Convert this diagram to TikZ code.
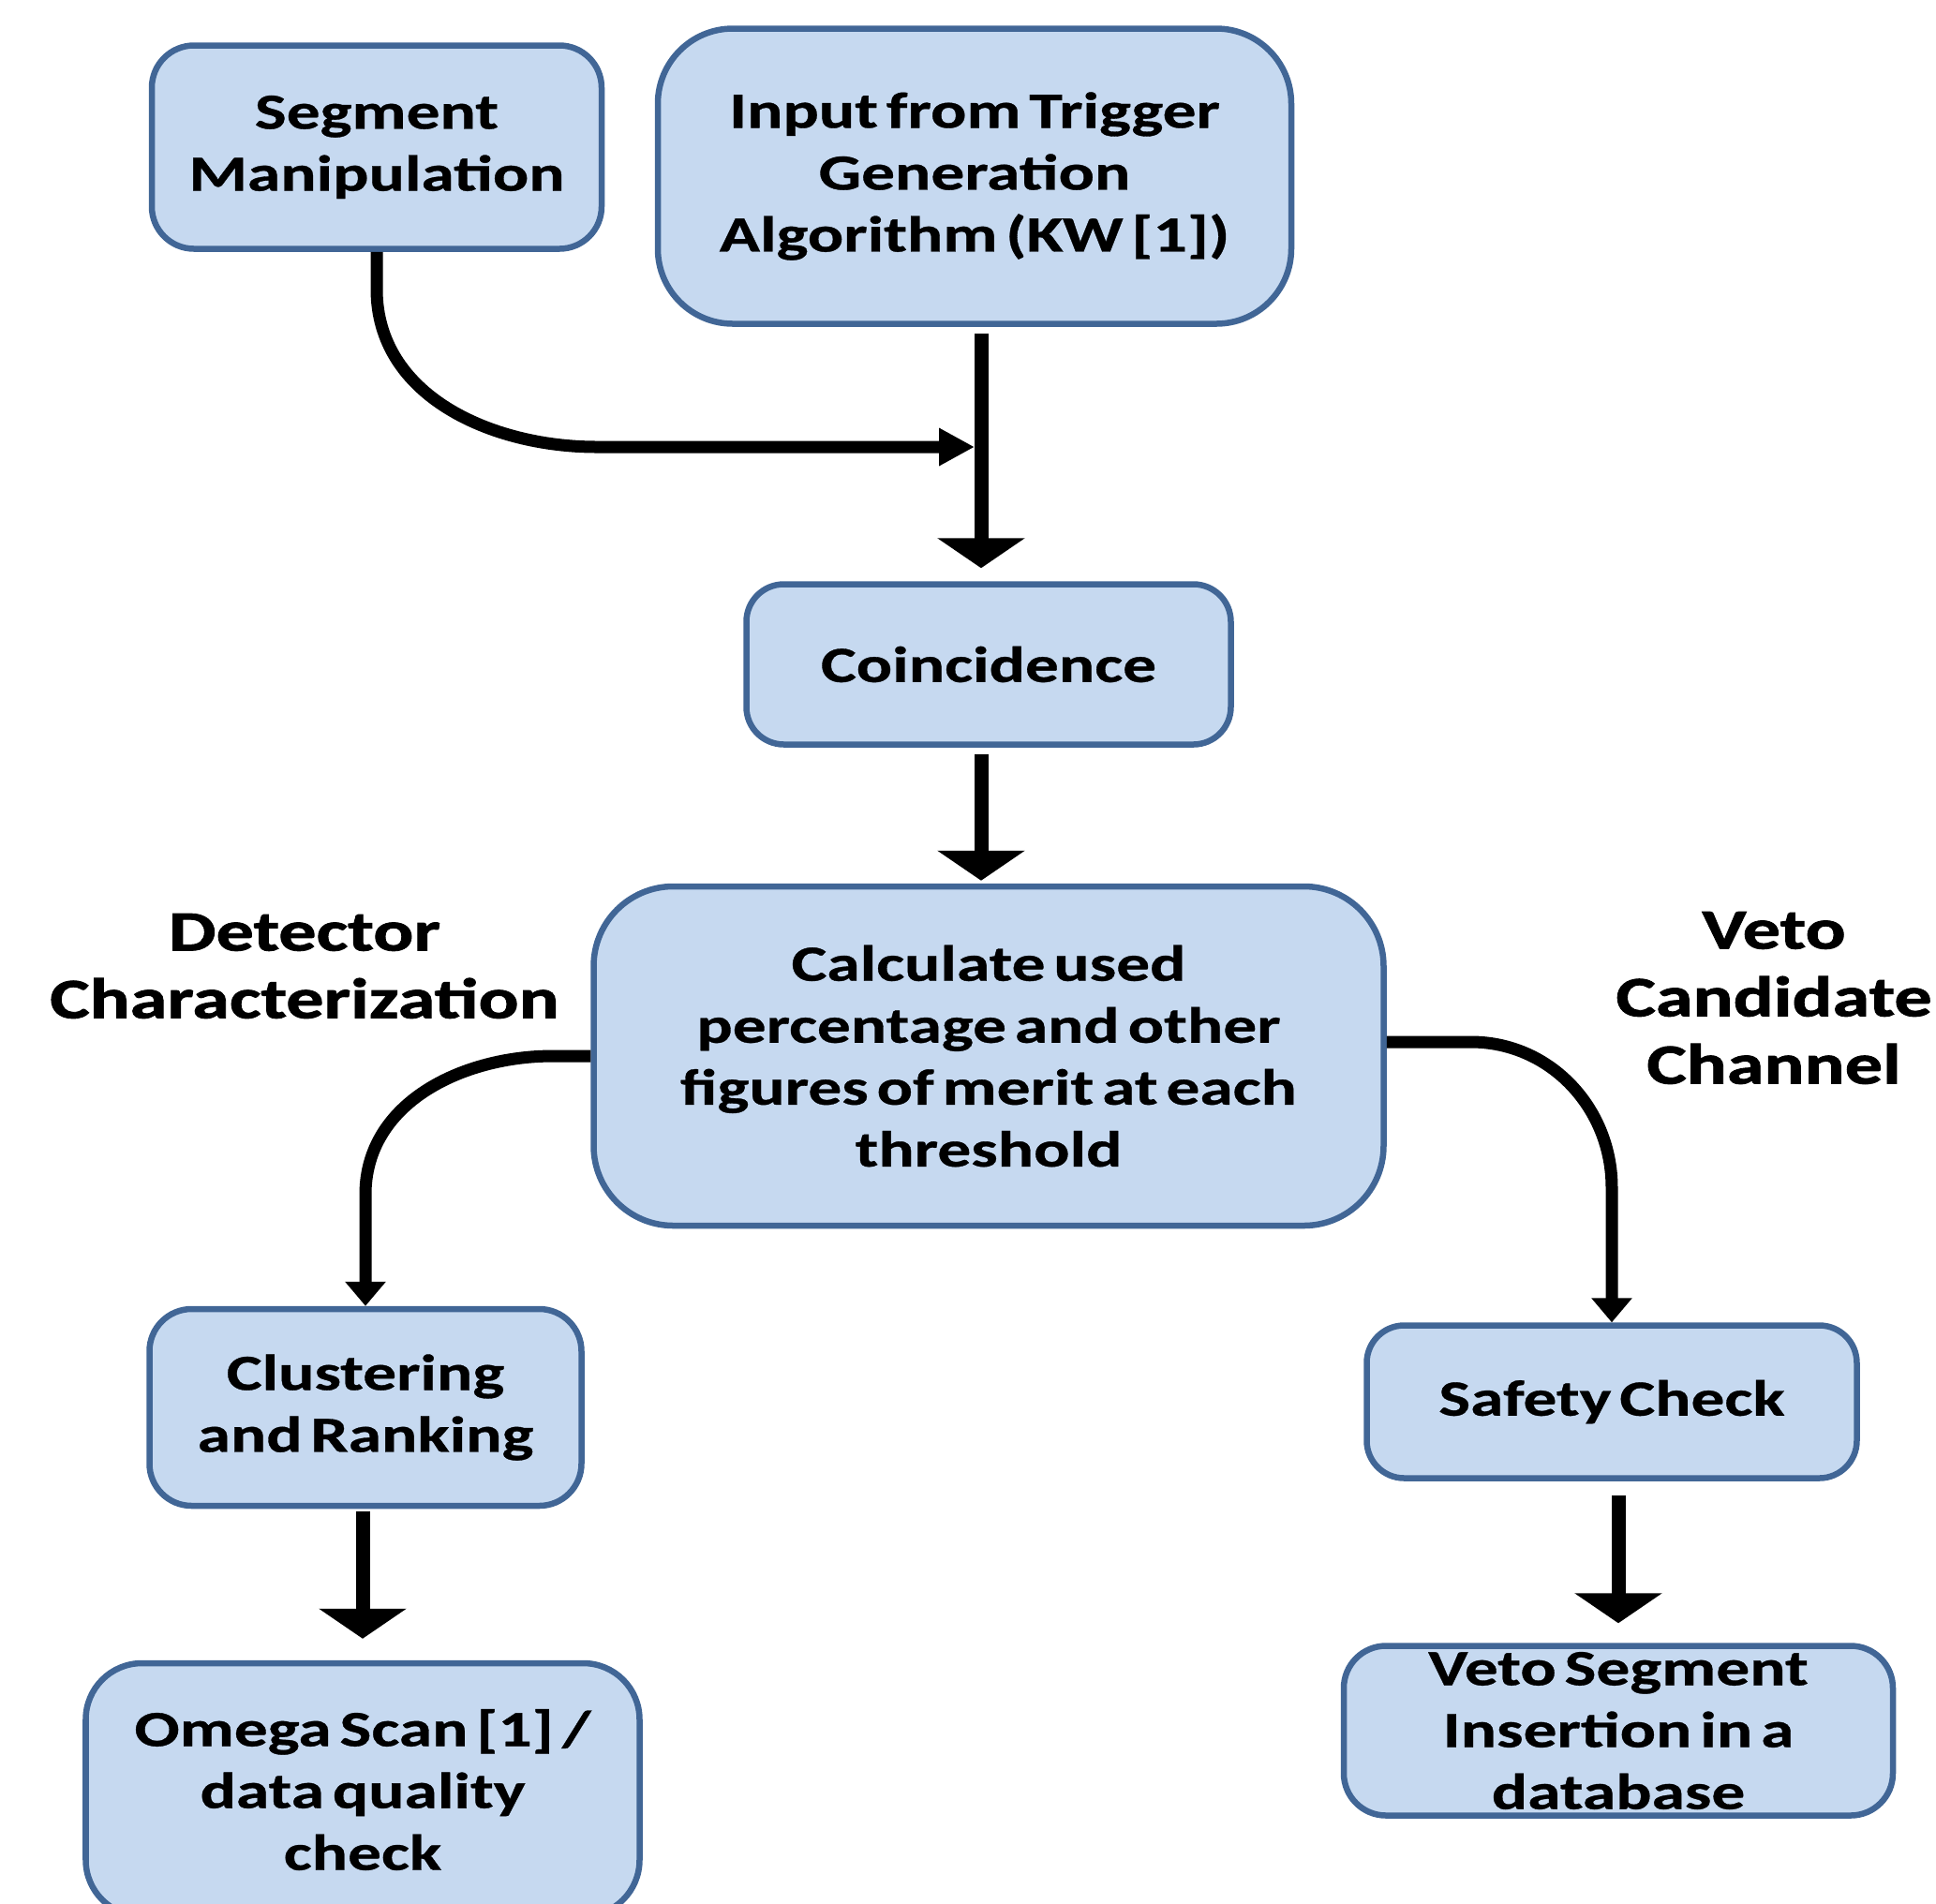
\documentclass[tikz,border=0pt]{standalone}
\usepackage{fontspec}
\newfontfamily\boxfont{Carlito}[FakeStretch=1.32, WordSpace=0.55, FakeBold=0.6]
\newfontfamily\labelfont{Carlito}[FakeStretch=1.32, WordSpace=0.6, FakeBold=1.4]
\definecolor{boxblue}{RGB}{198,217,240}
\definecolor{boxedge}{RGB}{65,102,150}
\usetikzlibrary{arrows.meta, positioning, calc}

\begin{document}
\begin{tikzpicture}[
    stepbox/.style={rectangle, draw=boxedge, fill=boxblue, line width=0.065cm,
                    rounded corners=0.45cm, align=center, inner sep=0pt,
                    font={\boxfont\bfseries\fontsize{15.4}{18.8}\selectfont}},
    sidelabel/.style={align=center, inner sep=0pt,
                      font={\labelfont\bfseries\fontsize{17.3}{20.5}\selectfont}},
    mainflow/.style={draw, line width=0.15cm,
                     -{Triangle[width=0.92cm, length=0.32cm]}},
    curveflow/.style={draw, line width=0.13cm,
                      -{Triangle[width=0.38cm, length=0.38cm]}},
    sideflow/.style={draw, line width=0.13cm,
                     -{Triangle[width=0.42cm, length=0.26cm]}}
]
\useasboundingbox (0,0) rectangle (20.66,-20.31);

\node[stepbox, minimum width=4.80cm, minimum height=2.17cm]
    (seg) at (4.02,-1.57) {Segment\\Manipulation};
\node[stepbox, minimum width=6.76cm, minimum height=3.15cm, rounded corners=0.8cm]
    (input) at (10.40,-1.88) {Input from Trigger\\Generation\\Algorithm (KW [1])};
\node[stepbox, minimum width=5.17cm, minimum height=1.71cm, rounded corners=0.4cm]
    (coinc) at (10.55,-7.09) {Coincidence};
\node[stepbox, minimum width=8.43cm, minimum height=3.62cm, rounded corners=0.85cm]
    (calc) at (10.55,-11.27)
    {Calculate used\\percentage and other\\figures of merit at each\\threshold};
\node[stepbox, minimum width=4.61cm, minimum height=2.10cm]
    (clust) at (3.90,-15.02) {Clustering\\and Ranking};
\node[stepbox, minimum width=5.91cm, minimum height=2.70cm, rounded corners=0.6cm]
    (omega) at (3.87,-19.10) {Omega Scan [1] /\\data quality\\check};
\node[stepbox, minimum width=5.23cm, minimum height=1.63cm, rounded corners=0.4cm]
    (safety) at (17.20,-14.96) {Safety Check};
\node[stepbox, minimum width=5.86cm, minimum height=1.81cm]
    (veto) at (17.27,-18.47) {Veto Segment\\Insertion in a\\database};

\node[sidelabel] (detchar) at (3.25,-10.31) {Detector\\Characterization};
\node[sidelabel] (vetochan) at (18.93,-10.65) {Veto\\Candidate\\Channel};

\coordinate (merge) at (10.47,-4.77);

\draw[curveflow, shorten >=0.07cm] (seg.south) -- ++(0,-0.4)
    to[out=-90, in=180] ($(merge)+(-4.1,0)$) -- (merge);
\draw[mainflow, shorten <=0.07cm, shorten >=0.14cm]
    (input.south -| merge) -- (coinc.north -| merge);
\draw[mainflow, shorten <=0.07cm, shorten >=0.03cm]
    (coinc.south -| merge) -- (calc.north -| merge);
\draw[sideflow] (calc.west) -- ++(-0.4,0)
    to[out=180, in=90] ($(clust.north)+(0,1.19)$) -- (clust.north);
\draw[sideflow] ($(calc.east)+(0,0.15)$) -- ++(0.9,0)
    to[out=0, in=90] ($(safety.north)+(0,1.44)$) -- (safety.north);
\draw[mainflow, shorten <=0.03cm, shorten >=0.23cm]
    (clust.south -| omega.north) -- (omega.north);
\draw[mainflow, shorten <=0.15cm, shorten >=0.21cm]
    (safety.south -| veto.north) -- (veto.north);
\end{tikzpicture}
\end{document}
